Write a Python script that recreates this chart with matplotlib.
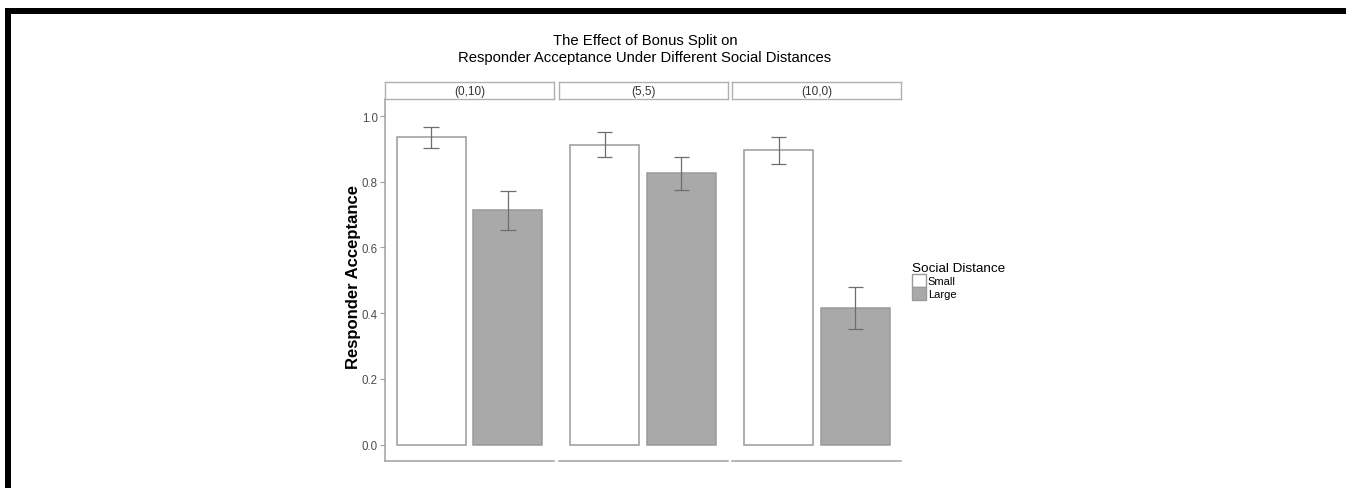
import matplotlib
matplotlib.use("Agg")
import matplotlib.pyplot as plt
from matplotlib.patches import Rectangle, Patch

plt.rcParams['font.family'] = ['Liberation Sans', 'DejaVu Sans']

# Facets (bonus split) and social-distance groups
splits = ["(0,10)", "(5,5)", "(10,0)"]
distances = ["Small", "Large"]

# Mean responder acceptance with error-bar limits
small_mean = [0.935, 0.913, 0.896]
small_lo = [0.902, 0.875, 0.854]
small_hi = [0.967, 0.951, 0.936]
large_mean = [0.714, 0.826, 0.416]
large_lo = [0.653, 0.776, 0.352]
large_hi = [0.772, 0.876, 0.479]

y_ticks = [0.0, 0.2, 0.4, 0.6, 0.8, 1.0]

W, H = 1346, 489
fig = plt.figure(figsize=(W / 100, H / 100), dpi=100)

fill = {"Small": "white", "Large": "#a9a9a9"}
edge = "#9a9a9a"
axis_col = "#a0a0a0"
err_col = "#6e6e6e"

panel_left = [385, 558.5, 732.5]
panel_w = 169
top_px, bot_px = 100, 461.7
strip_h = 16.7

means = {"Small": small_mean, "Large": large_mean}
los = {"Small": small_lo, "Large": large_lo}
his = {"Small": small_hi, "Large": large_hi}

for i, split in enumerate(splits):
    ax = fig.add_axes([panel_left[i] / W, 1 - bot_px / H, panel_w / W, (bot_px - top_px) / H])
    xs = [1, 2]
    for x, d in zip(xs, distances):
        ax.bar(x, means[d][i], width=0.9, color=fill[d], edgecolor=edge, linewidth=1.1, zorder=2)
        ax.vlines(x, los[d][i], his[d][i], color=err_col, linewidth=0.9, zorder=3)
        ax.hlines([los[d][i], his[d][i]], x - 0.1, x + 0.1, color=err_col, linewidth=0.9, zorder=3)
    ax.set_xlim(0.4, 2.6)
    ax.set_ylim(-0.049, 1.052)
    ax.set_xticks([])
    for s in ["top", "right"]:
        ax.spines[s].set_visible(False)
    ax.spines["bottom"].set_color(axis_col)
    ax.spines["bottom"].set_linewidth(1.1)
    if i == 0:
        ax.spines["left"].set_color(axis_col)
        ax.spines["left"].set_linewidth(1.1)
        ax.set_yticks(y_ticks)
        ax.set_yticklabels([f"{v:.1f}" for v in y_ticks])
        ax.tick_params(axis="y", length=3.6, width=0.8, color=axis_col,
                       labelsize=8.3, labelcolor="#4d4d4d", pad=1.5)
        ax.set_ylabel("Responder Acceptance", fontsize=12, fontweight="bold")
        ax.yaxis.set_label_coords((361 - 385) / panel_w, (bot_px - 277.5) / (bot_px - top_px))
    else:
        ax.spines["left"].set_visible(False)
        ax.set_yticks([])

    # facet strip
    sax = fig.add_axes([panel_left[i] / W, 1 - top_px / H, panel_w / W, strip_h / H])
    sax.set_xticks([])
    sax.set_yticks([])
    for s in sax.spines.values():
        s.set_color("#b0b0b0")
        s.set_linewidth(1.0)
    sax.text(0.5, 0.5, split, ha="center", va="center", fontsize=8.5, color="#333333",
             transform=sax.transAxes)

fig.text(645 / W, 1 - 49.5 / H,
         "The Effect of Bonus Split on\nResponder Acceptance Under Different Social Distances",
         ha="center", va="center", fontsize=10.75, linespacing=1.25)

handles = [Patch(facecolor=fill[d], edgecolor=edge, linewidth=1.0) for d in distances]
leg = fig.legend(handles, distances, loc="upper left",
                 bbox_to_anchor=(910 / W, 1 - 261 / H), frameon=False,
                 title="Social Distance", title_fontsize=9.7, fontsize=8,
                 handlelength=1.2, handleheight=1.4, handletextpad=0.2,
                 labelspacing=0.0, borderaxespad=0, borderpad=0.2, alignment="left")

# outer frame lines
fig.add_artist(Rectangle((5 / W, 0), 6 / W, 1 - 9 / H, transform=fig.transFigure,
                         facecolor="black", edgecolor="none"))
fig.add_artist(Rectangle((5 / W, 1 - 15 / H), 1 - 5 / W, 6 / H, transform=fig.transFigure,
                         facecolor="black", edgecolor="none"))

fig.savefig("out.png", dpi=100, facecolor="white")
